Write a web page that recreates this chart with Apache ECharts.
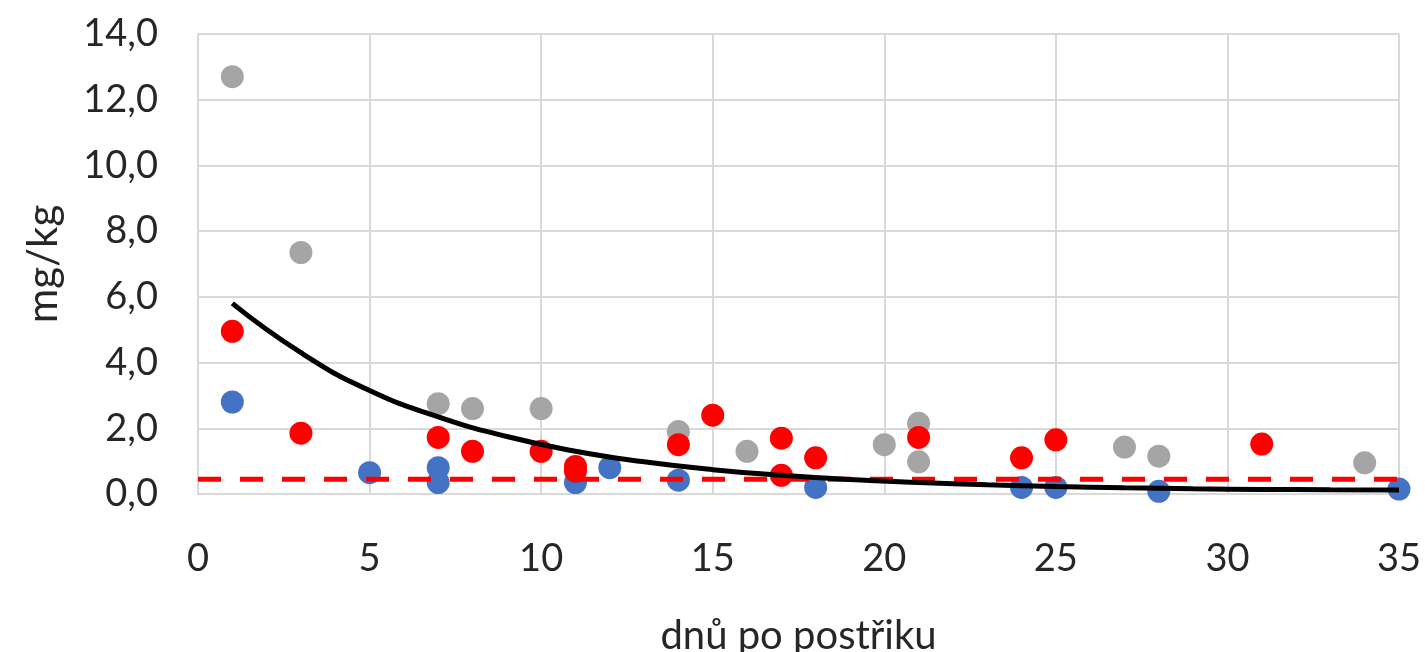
<!DOCTYPE html>
<html>
<head>
<meta charset="utf-8">
<script src="https://cdn.jsdelivr.net/npm/echarts@6/dist/echarts.min.js"></script>
<style>
  html, body { margin: 0; padding: 0; background: #fff; }
  #chart { width: 1425px; height: 652px; }
</style>
</head>
<body>
<div id="chart"></div>
<script>
// body values: [day, mg/kg]
var grayPts = [[1, 12.7], [3, 7.35], [7, 2.75], [8, 2.6], [10, 2.6], [14, 1.9], [16, 1.3],
  [20, 1.5], [21, 2.15], [21, 0.98], [27, 1.43], [28, 1.15], [34, 0.95]];
var redPts = [[1, 4.95], [3, 1.85], [7, 1.72], [8, 1.3], [10, 1.3], [11, 0.84], [11, 0.7],
  [14, 1.5], [15, 2.4], [17, 1.7], [17, 0.57], [18, 1.1], [21, 1.72], [24, 1.1], [25, 1.65], [31, 1.52]];
var bluePts = [[1, 2.8], [5, 0.65], [7, 0.8], [7, 0.35], [11, 0.35], [12, 0.8], [14, 0.42],
  [18, 0.2], [24, 0.2], [25, 0.2], [28, 0.08], [35, 0.15]];
// trend curve, read at several days
var trendPts = [[1, 5.8], [3, 4.3], [5, 3.15], [7, 2.35], [9, 1.75], [11, 1.3], [13, 0.98], [15, 0.74],
  [17, 0.57], [19, 0.44], [21, 0.35], [23, 0.28], [25, 0.23], [27, 0.19], [29, 0.16], [31, 0.14],
  [33, 0.13], [35, 0.12]];
// limit line
var limitPts = [[0, 0.45], [35, 0.45]];

var chart = echarts.init(document.getElementById('chart'));
var font = 'Lato';

var option = {
  backgroundColor: '#ffffff',
  animation: false,
  grid: { left: 198, right: 26, top: 34, bottom: 158, outerBoundsMode: 'none', containLabel: false },
  xAxis: {
    type: 'value', min: 0, max: 35, interval: 5,
    name: 'dnů po postřiku', nameLocation: 'middle', nameGap: 122,
    nameTextStyle: { fontFamily: font, fontSize: 40, color: '#262626' },
    axisLine: { show: true, lineStyle: { color: '#d9d9d9', width: 2 } },
    axisTick: { show: false },
    axisLabel: { fontFamily: font, fontSize: 38, color: '#262626', margin: 46 },
    splitLine: { show: true, lineStyle: { color: '#d9d9d9', width: 2 } }
  },
  yAxis: {
    type: 'value', min: 0, max: 14, interval: 2,
    name: 'mg/kg', nameLocation: 'middle', nameGap: 134,
    nameTextStyle: { fontFamily: font, fontSize: 42, color: '#262626' },
    axisLine: { show: true, lineStyle: { color: '#d9d9d9', width: 2 } },
    axisTick: { show: false },
    axisLabel: {
      fontFamily: font, fontSize: 38, color: '#262626', margin: 40,
      formatter: function (v) { return v.toFixed(1).replace('.', ','); }
    },
    splitLine: { show: true, lineStyle: { color: '#d9d9d9', width: 2 } }
  },
  series: [
    { type: 'scatter', data: grayPts, symbolSize: 23, itemStyle: { color: '#a5a5a5', opacity: 1 }, z: 2 },
    { type: 'scatter', data: bluePts, symbolSize: 23, itemStyle: { color: '#4472c4', opacity: 1 }, z: 3 },
    {
      type: 'line', data: limitPts, symbol: 'none', z: 4,
      lineStyle: { color: '#ff0000', width: 5, type: [23, 19] }
    },
    { type: 'scatter', data: redPts, symbolSize: 23, itemStyle: { color: '#ff0000', opacity: 1 }, z: 5 },
    {
      type: 'line', data: trendPts, symbol: 'none', smooth: true, z: 6,
      lineStyle: { color: '#000000', width: 5 }
    }
  ]
};
chart.setOption(option);
</script>
</body>
</html>
